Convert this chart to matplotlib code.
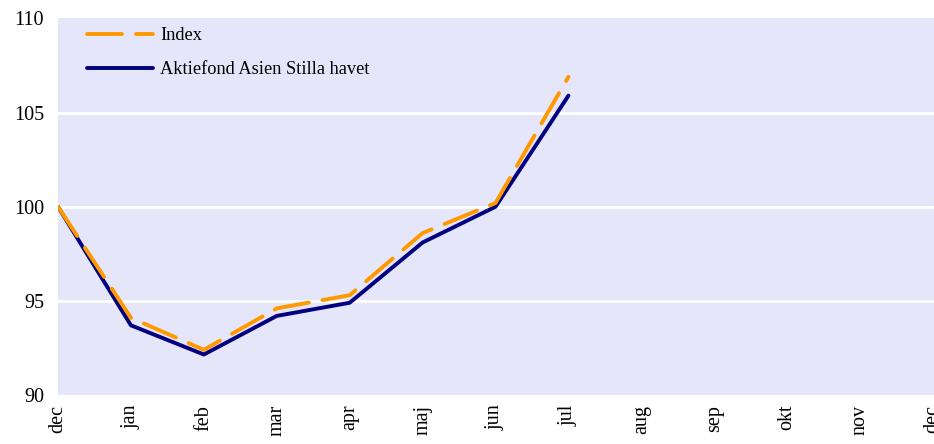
"""
Aktiefond Asien Stilla havet vs index, monthly development.
"""
import matplotlib
matplotlib.use("Agg")
from matplotlib import pyplot as plt

# Month labels for the x axis (dec to dec)
months = ["dec", "jan", "feb", "mar", "apr", "maj", "jun",
          "jul", "aug", "sep", "okt", "nov", "dec"]

# Values (only dec - jul available)
index_values = [100.0, 94.1, 92.4, 94.6, 95.3, 98.6, 100.2, 106.9]
fund_values = [100.0, 93.7, 92.15, 94.2, 94.9, 98.1, 100.0, 105.9]

y_ticks = [90, 95, 100, 105, 110]

plt.rcParams['font.family'] = ['Liberation Serif', 'DejaVu Serif']

fig = plt.figure(figsize=(9.34, 4.44), dpi=100)
ax = fig.add_axes([0.0621, 0.1104, 0.94, 0.848])
ax.set_facecolor('#e6e6fa')

# Horizontal white grid lines
for t in y_ticks[1:-1]:
    ax.axhline(t, color='white', linewidth=2, zorder=1)

x_idx = list(range(len(index_values)))
ax.plot(x_idx, index_values, color='#ff9900', linewidth=2.8,
        dashes=(9, 3.6), dash_capstyle='round', label='Index', zorder=3)
ax.plot(x_idx, fund_values, color='#000080', linewidth=2.8,
        solid_capstyle='round', label='Aktiefond Asien Stilla havet', zorder=2)

ax.set_xlim(0, 12.04)
ax.set_ylim(90, 110)
ax.set_yticks(y_ticks)
ax.set_yticklabels([str(t) for t in y_ticks], fontsize=14.5)
ax.set_xticks(range(len(months)))
ax.set_xticklabels(months, rotation=90, fontsize=14.5, va='top')
ax.tick_params(axis='both', length=0)
ax.tick_params(axis='x', pad=7)
ax.tick_params(axis='y', pad=10)

for side in ax.spines.values():
    side.set_visible(False)

ax.legend(loc='upper left', bbox_to_anchor=(0.014, 1.02), frameon=False,
          fontsize=13.2, handlelength=3.6, handletextpad=0.4, labelspacing=0.9)

plt.savefig('out.png', dpi=100)
